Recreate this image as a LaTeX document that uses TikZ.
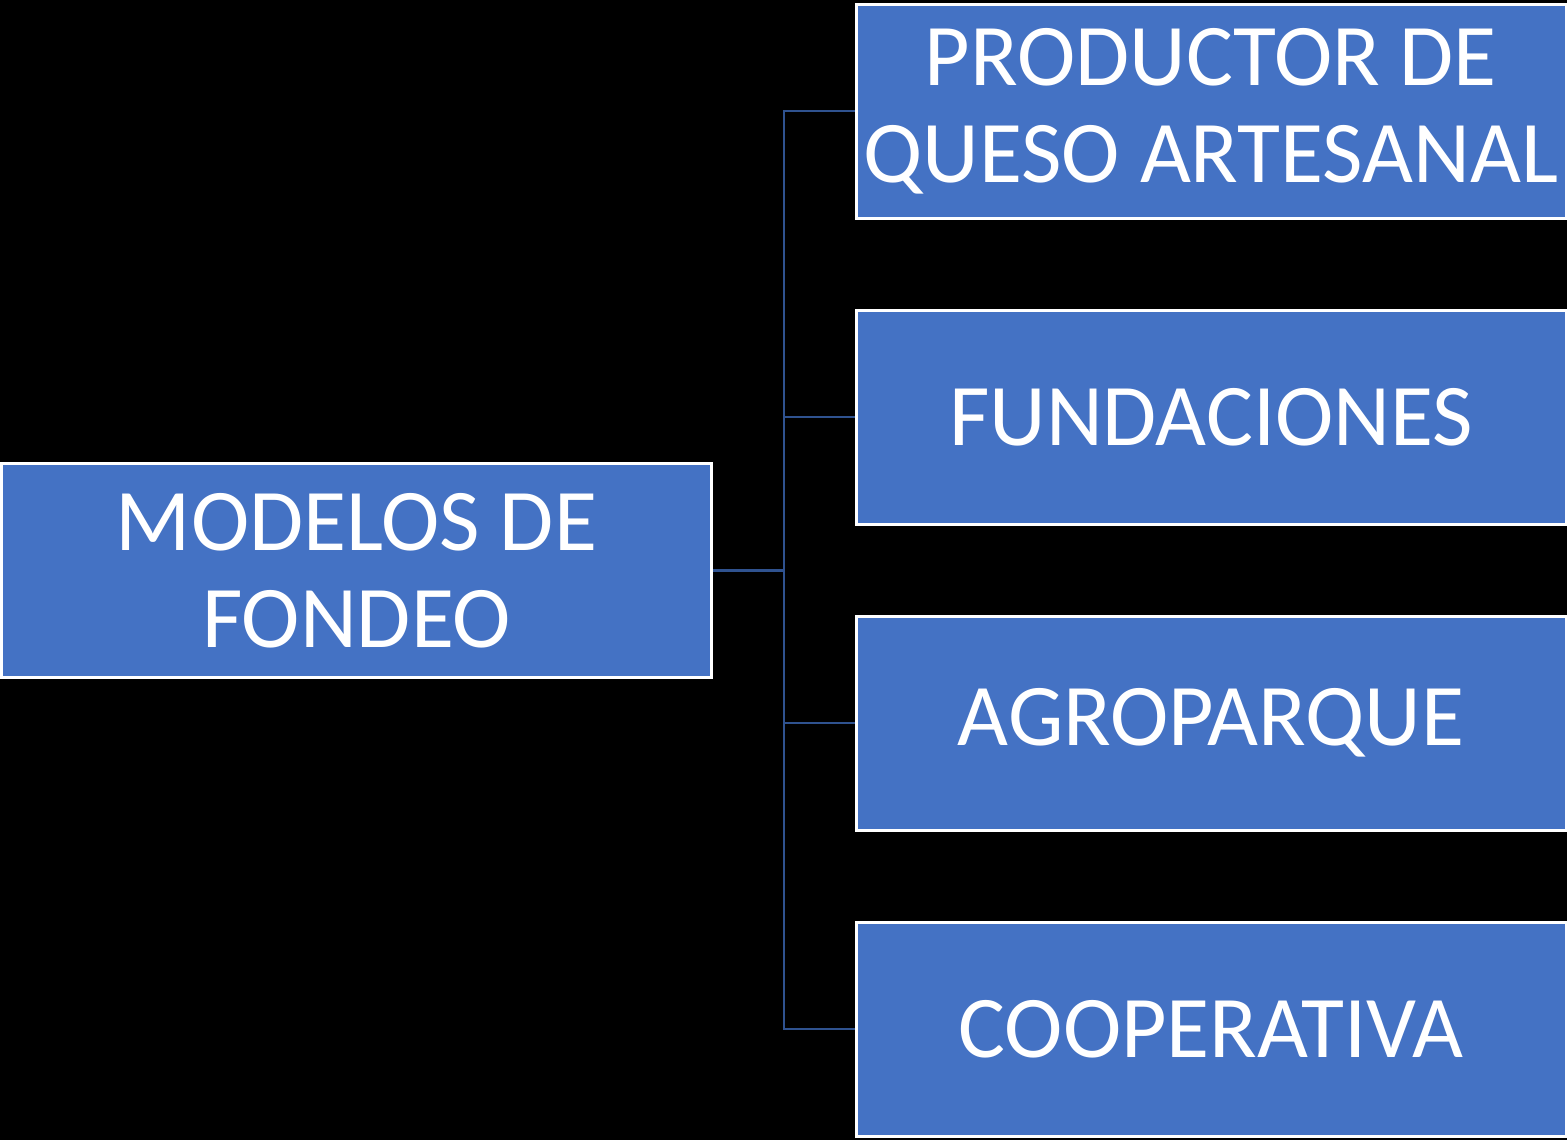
\documentclass[tikz,border=0pt]{standalone}
\usepackage{fontspec}
\setmainfont{Carlito}
\usepackage{tikz}
\usetikzlibrary{positioning}
\definecolor{boxblue}{HTML}{4472C4}
\definecolor{lineblue}{HTML}{2F528F}

\begin{document}
\begin{tikzpicture}[x=0.5pt,y=-0.5pt,node distance=153pt,
		main node/.style={rectangle,draw=white,line width=1.5pt,fill=boxblue,
			minimum width=355pt,minimum height=107pt,inner sep=0pt,align=center,
			text=white,font=\fontsize{44}{48.5}\selectfont},
		link/.style={draw=lineblue,line width=1.2pt}]
		
		\fill[black] (0,0) rectangle (1567,1140);
		\useasboundingbox (0,0) rectangle (1567,1140);
		
		\node[main node] (0) at (356.5,570.5) {MODELOS DE\\FONDEO};
		\node[main node] (1) at (1211,111) {PRODUCTOR DE\\QUESO ARTESANAL};
		\node[main node] (2) [below of=1] {FUNDACIONES};
		\node[main node] (3) [below of=2] {AGROPARQUE};
		\node[main node] (4) [below of=3] {COOPERATIVA};
		
		\coordinate (j) at (784,570.5);
		\draw[link] (0.east) -- (j);
		\draw[link] (j) |- (1.west);
		\draw[link] (j) |- (2.west);
		\draw[link] (j) |- (3.west);
		\draw[link] (j) |- (4.west);
		\end{tikzpicture}
\end{document}
